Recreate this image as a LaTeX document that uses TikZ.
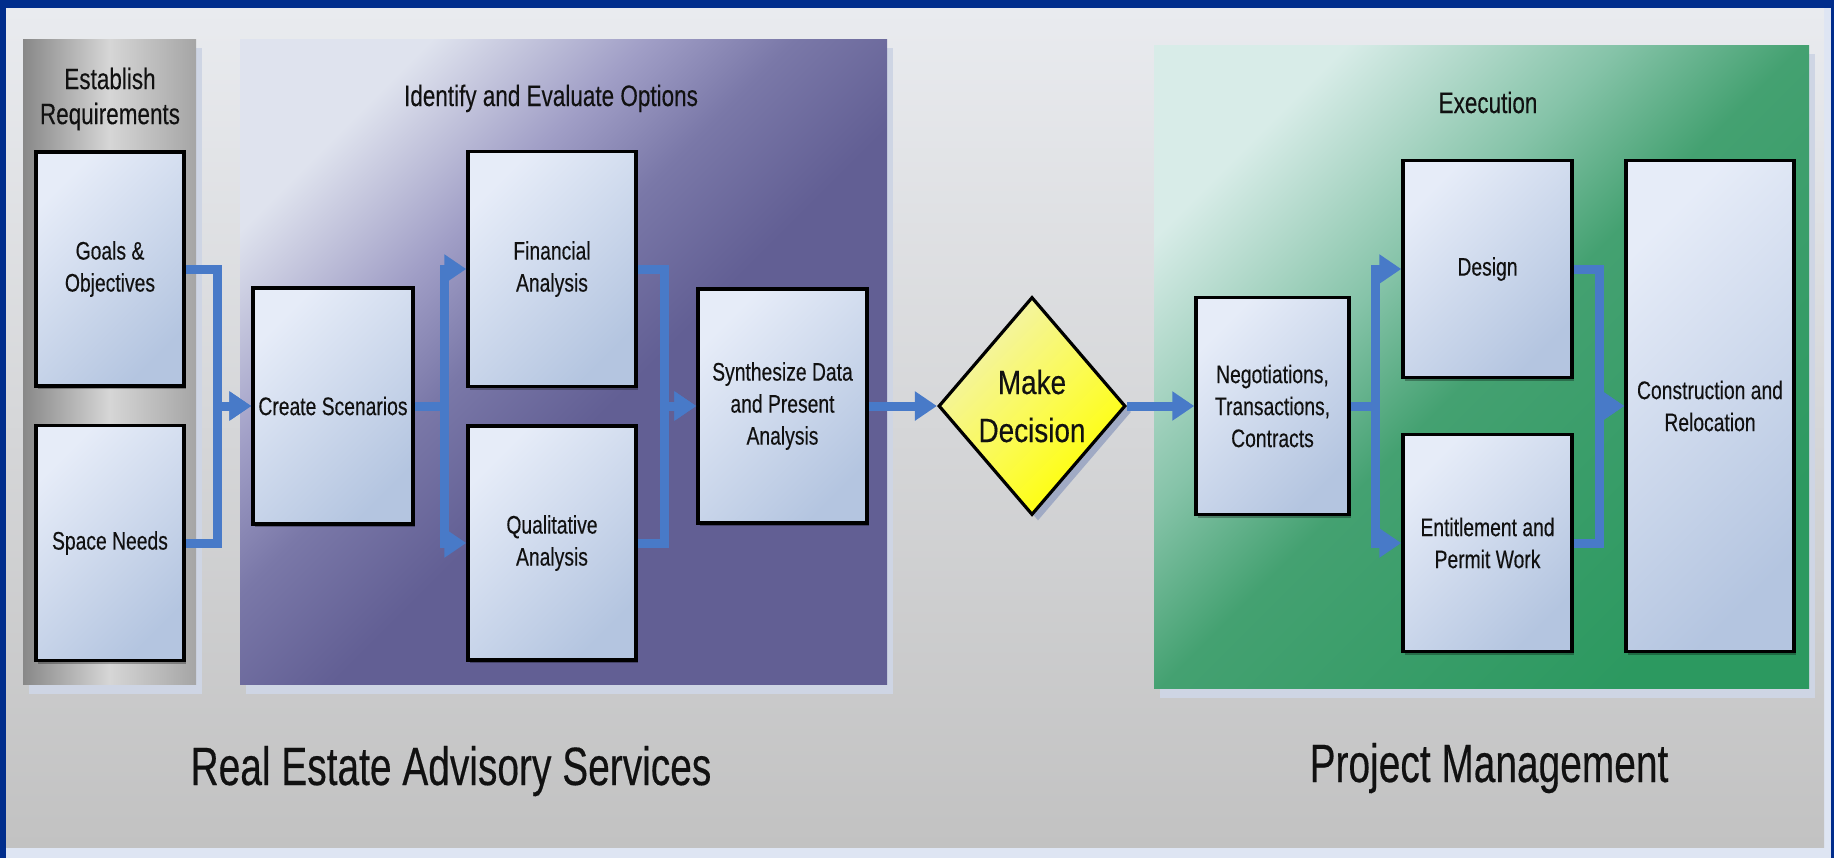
\documentclass[tikz,border=0pt]{standalone}
\usepackage{fontspec}
\setmainfont{Liberation Sans}[FakeStretch=0.76,FakeBold=0.25]
\newfontfamily\titlefont{Liberation Sans}[FakeStretch=0.72,FakeBold=0.3]
\newfontfamily\decfont{Liberation Sans}[FakeStretch=0.83,FakeBold=0.3]
\usetikzlibrary{arrows.meta,shapes.geometric,shadows}
\definecolor{navy}{RGB}{0,45,140}
\definecolor{stripcol}{RGB}{222,229,243}
\definecolor{bgtop}{RGB}{233,235,239}
\definecolor{bgbot}{RGB}{194,194,194}
\definecolor{pshadow}{RGB}{206,213,228}
\definecolor{estL}{RGB}{136,136,136}
\definecolor{estM}{RGB}{214,214,214}
\definecolor{estR}{RGB}{165,165,165}
\definecolor{idA}{RGB}{223,227,238}
\definecolor{idB}{RGB}{160,158,198}
\definecolor{idC}{RGB}{122,120,168}
\definecolor{idD}{RGB}{98,95,148}
\definecolor{exA}{RGB}{216,236,232}
\definecolor{exB}{RGB}{133,195,168}
\definecolor{exC}{RGB}{68,161,113}
\definecolor{exD}{RGB}{44,153,96}
\definecolor{boxA}{RGB}{230,236,248}
\definecolor{boxB}{RGB}{180,197,224}
\definecolor{decA}{RGB}{242,242,178}
\definecolor{decM}{RGB}{250,250,90}
\definecolor{decB}{RGB}{255,255,0}
\definecolor{dshadow}{RGB}{160,170,196}
\definecolor{arrowc}{RGB}{72,122,200}
\definecolor{txt}{RGB}{17,17,17}
\pgfdeclareverticalshading{idshade}{100bp}{color(0bp)=(idD); color(45bp)=(idD); color(55bp)=(idC); color(63bp)=(idB); color(75bp)=(idA); color(100bp)=(idA)}
\pgfdeclareverticalshading{exshade}{100bp}{color(0bp)=(exD); color(25bp)=(exD); color(50bp)=(exC); color(60bp)=(exB); color(75bp)=(exA); color(100bp)=(exA)}
\newcommand\boxfnt{\fontsize{12.7}{16}\selectfont}
\newcommand\ptitlefnt{\fontsize{14.8}{17.5}\selectfont}
\newcommand\decfnt{\decfont\fontsize{16.8}{24}\selectfont}
\newcommand\bigtitlefnt{\titlefont\fontsize{27}{32}\selectfont}
\begin{document}
\begin{tikzpicture}[x=0.5pt,y=-0.5pt,
  box/.style={draw=black, line width=1.75pt, top color=boxA, bottom color=boxB, shading angle=45,
    inner sep=0pt, align=center, text=txt, font=\boxfnt,
    drop shadow={shadow xshift=1.2pt, shadow yshift=-1.5pt, fill=black, opacity=0.3}},
  dec/.style={diamond, aspect=0.858, minimum width=93.5pt, minimum height=109pt, inner sep=0pt,
    draw=black, line width=1.6pt, top color=decA, bottom color=decB, middle color=decM, shading angle=45,
    align=center, text=txt, font=\decfnt,
    drop shadow={shadow xshift=3pt, shadow yshift=-3pt, fill=dshadow, opacity=1}},
  ptitle/.style={align=center, text=txt, font=\ptitlefnt, inner sep=0pt},
  bigtitle/.style={text=txt, font=\bigtitlefnt, inner sep=0pt},
  conn/.style={draw=arrowc, line width=4.5pt, -{Triangle[length=11pt,width=14pt]}}
]
\useasboundingbox (0,0) rectangle (1834,858);
% frame and background
\fill[navy] (0,0) rectangle (1834,858);
\fill[stripcol] (6,8) rectangle (1831,858);
\shade[top color=bgtop, bottom color=bgbot] (6,8) rectangle (1824,847);
% panel shadows
\fill[pshadow] (29,48) rectangle (202,694);
\fill[pshadow] (246,48) rectangle (893,694);
\fill[pshadow] (1160,54) rectangle (1815,698);
% panels
\shade[left color=estL, right color=estR, middle color=estM] (23,39) rectangle (196,684);
\shade[shading=idshade, shading angle=45] (240,39) rectangle (887,684);
\shade[shading=exshade, shading angle=45] (1154,45) rectangle (1809,688);
% panel titles
\node[ptitle] (testab) at (110,99) {Establish\\Requirements};
\node[ptitle, anchor=base] (tident) at (551,106) {Identify and Evaluate Options};
\node[ptitle, anchor=base] (texec) at (1488,113) {Execution};
% big titles
\node[bigtitle, anchor=base] (tres) at (451,785) {Real Estate Advisory Services};
\node[bigtitle, anchor=base] (tpm) at (1489,782) {Project Management};
% boxes
\node[box, minimum width=74pt, minimum height=117pt] (goals) at (110,269) {Goals \&\\Objectives};
\node[box, minimum width=74pt, minimum height=117.5pt] (space) at (110,543) {Space Needs};
\node[box, minimum width=80pt, minimum height=118pt] (create) at (333,406) {Create Scenarios};
\node[box, minimum width=84pt, minimum height=117.5pt] (fin) at (552,269) {Financial\\Analysis};
\node[box, minimum width=84pt, minimum height=117pt] (qual) at (552,543) {Qualitative\\Analysis};
\node[box, minimum width=84.5pt, minimum height=117pt] (synth) at (782.5,406) {Synthesize Data\\and Present\\Analysis};
\node[dec] (decide) at (1032,406) {Make\\Decision};
\node[box, minimum width=76.5pt, minimum height=108.5pt] (neg) at (1272.5,406) {Negotiations,\\Transactions,\\Contracts};
\node[box, minimum width=84.5pt, minimum height=108.5pt] (design) at (1487.5,269) {Design};
\node[box, minimum width=84.5pt, minimum height=108.5pt] (ent) at (1487.5,543) {Entitlement and\\Permit Work};
\node[box, minimum width=84pt, minimum height=245.5pt] (constr) at (1710,406) {Construction and\\Relocation};
% junctions
\coordinate (j1) at (217,406);
\coordinate (j2) at (444,406);
\coordinate (j3) at (664,406);
\coordinate (j4) at (1375,406);
\coordinate (j5) at (1599,406);
% connectors
\draw[conn] (goals.east) -| (j1) -- (create.west);
\draw[conn] (space.east) -| (j1) -- (create.west);
\draw[conn] (create.east) -- (j2) |- (fin.west);
\draw[conn] (create.east) -- (j2) |- (qual.west);
\draw[conn] (fin.east) -| (j3) -- (synth.west);
\draw[conn] (qual.east) -| (j3) -- (synth.west);
\draw[conn] (synth.east) -- (decide.west);
\draw[conn] (decide.east) -- (neg.west);
\draw[conn] (neg.east) -- (j4) |- (design.west);
\draw[conn] (neg.east) -- (j4) |- (ent.west);
\draw[conn] (design.east) -| (j5) -- (constr.west);
\draw[conn] (ent.east) -| (j5) -- (constr.west);
\end{tikzpicture}
\end{document}
